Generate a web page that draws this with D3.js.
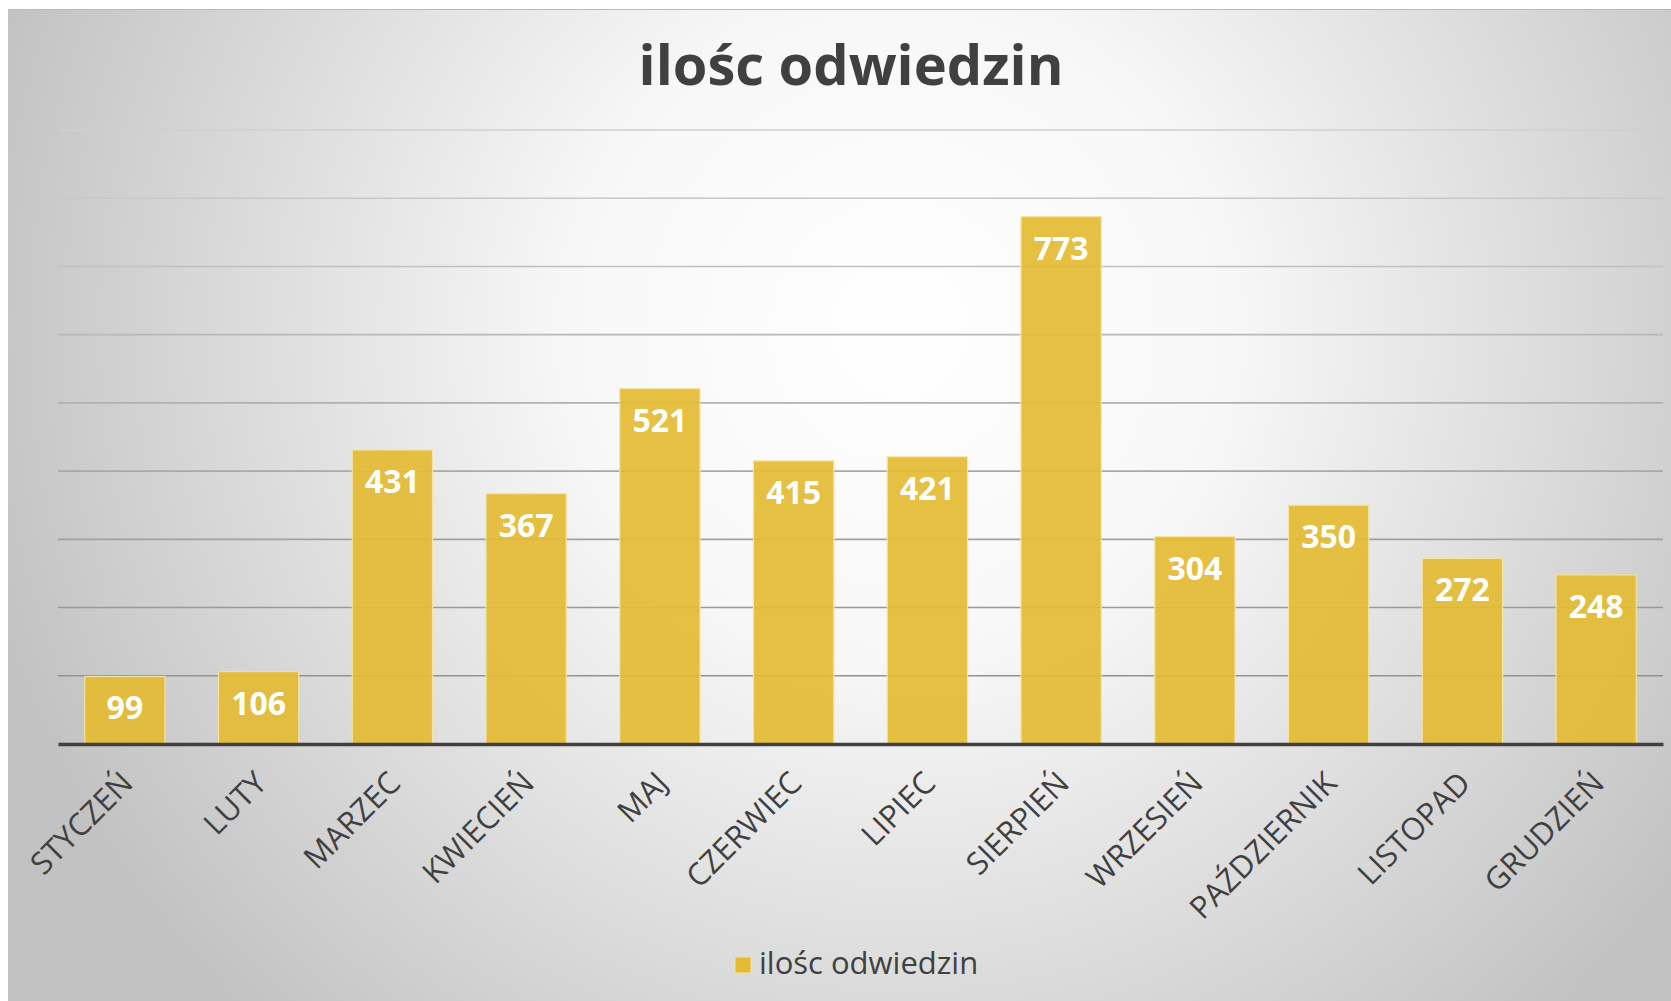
<!DOCTYPE html>
<html>
<head>
<meta charset="utf-8">
<script src="https://cdn.jsdelivr.net/npm/d3@7"></script>
<style>
  body { margin: 0; background: #fff; }
  svg { display: block; }
  text { font-family: "Open Sans", Lato, sans-serif; }
</style>
</head>
<body>
<svg id="chart" width="1671" height="1001"></svg>
<script>
// data
const months = ["STYCZEŃ", "LUTY", "MARZEC", "KWIECIEŃ", "MAJ", "CZERWIEC",
                "LIPIEC", "SIERPIEŃ", "WRZESIEŃ", "PAŹDZIERNIK", "LISTOPAD", "GRUDZIEŃ"]
const visits = [99, 106, 431, 367, 521, 415, 421, 773, 304, 350, 272, 248]
const gridTicks = [100, 200, 300, 400, 500, 600, 700, 800, 900]
const seriesName = "ilośc odwiedzin"
const chartTitle = "ilośc odwiedzin"

const svg = d3.select('#chart')
const W = 1671, H = 1001
const plotLeft = 58, plotRight = 1663, plotTop = 130, plotBottom = 744
const barColor = "#e3bb33"

const defs = svg.append('defs')
const bg = defs.append('radialGradient')
    .attr('id', 'bg')
    .attr('gradientUnits', 'userSpaceOnUse')
    .attr('cx', 900).attr('cy', 330).attr('r', 950)
bg.append('stop').attr('offset', '0%').attr('stop-color', '#ffffff')
bg.append('stop').attr('offset', '35%').attr('stop-color', '#f7f7f7')
bg.append('stop').attr('offset', '100%').attr('stop-color', '#c2c2c2')

// gridlines go from pale at the top to darker grey near the axis
const gridGrad = defs.append('linearGradient')
    .attr('id', 'gridGrad')
    .attr('gradientUnits', 'userSpaceOnUse')
    .attr('x1', 0).attr('y1', plotTop).attr('x2', 0).attr('y2', plotBottom)
gridGrad.append('stop').attr('offset', '0%').attr('stop-color', '#cfcfcf')
gridGrad.append('stop').attr('offset', '100%').attr('stop-color', '#8a8a8a')

svg.append('rect')
    .attr('x', 8).attr('y', 9)
    .attr('width', W - 8).attr('height', H - 9)
    .attr('fill', 'url(#bg)')
svg.append('line')
    .attr('x1', 8).attr('x2', W).attr('y1', 9.5).attr('y2', 9.5)
    .attr('stroke', '#b8b8b8')

const x = d3.scaleBand()
    .domain(months)
    .range([plotLeft, plotRight])
    .paddingInner(0.4)
    .paddingOuter(0.2)

const y = d3.scaleLinear()
    .domain([0, 900])
    .range([plotBottom, plotTop])

// gridlines
svg.append('g')
    .selectAll('line')
    .data(gridTicks)
    .enter()
    .append('line')
    .attr('x1', plotLeft)
    .attr('x2', plotRight)
    .attr('y1', d => y(d))
    .attr('y2', d => y(d))
    .attr('stroke', 'url(#gridGrad)')
    .attr('stroke-width', 1.6)

// bars
svg.append('g')
    .selectAll('rect')
    .data(visits)
    .enter()
    .append('rect')
    .attr('x', (d, i) => x(months[i]))
    .attr('y', d => y(d))
    .attr('width', x.bandwidth())
    .attr('height', d => plotBottom - y(d))
    .attr('fill', barColor)
    .attr('fill-opacity', 0.92)
    .attr('stroke', '#f4e3a4')
    .attr('stroke-width', 1.2)

// value labels
svg.append('g')
    .selectAll('text')
    .data(visits)
    .enter()
    .append('text')
    .attr('x', (d, i) => x(months[i]) + x.bandwidth() / 2)
    .attr('y', d => y(d) + 43)
    .attr('text-anchor', 'middle')
    .attr('fill', '#ffffff')
    .attr('font-weight', 'bold')
    .attr('font-size', 32)
    .text(d => d)

// baseline axis
const xAxis = d3.axisBottom(x).tickSize(0).tickPadding(0)
const axisG = svg.append('g')
    .attr('transform', `translate(0,${plotBottom})`)
    .call(xAxis)
axisG.select('.domain')
    .attr('stroke', '#404040')
    .attr('stroke-width', 3.5)
axisG.selectAll('.tick text')
    .attr('font-family', '"Open Sans", Lato, sans-serif')
    .attr('font-size', 31)
    .attr('fill', '#404040')
    .attr('text-anchor', 'end')
    .attr('dy', 0)
    .attr('y', 0)
    .attr('transform', 'translate(10,41) rotate(-45)')

// title
svg.append('text')
    .attr('x', 851)
    .attr('y', 85)
    .attr('text-anchor', 'middle')
    .attr('fill', '#404040')
    .attr('font-weight', 'bold')
    .attr('font-size', 56)
    .text(chartTitle)

// legend
const legend = svg.append('g').attr('transform', 'translate(735,957)')
legend.append('rect')
    .attr('width', 16).attr('height', 16)
    .attr('fill', barColor)
    .attr('stroke', '#f4e3a4')
legend.append('text')
    .attr('x', 24)
    .attr('y', 17)
    .attr('fill', '#404040')
    .attr('font-size', 31)
    .text(seriesName)
</script>
</body>
</html>
